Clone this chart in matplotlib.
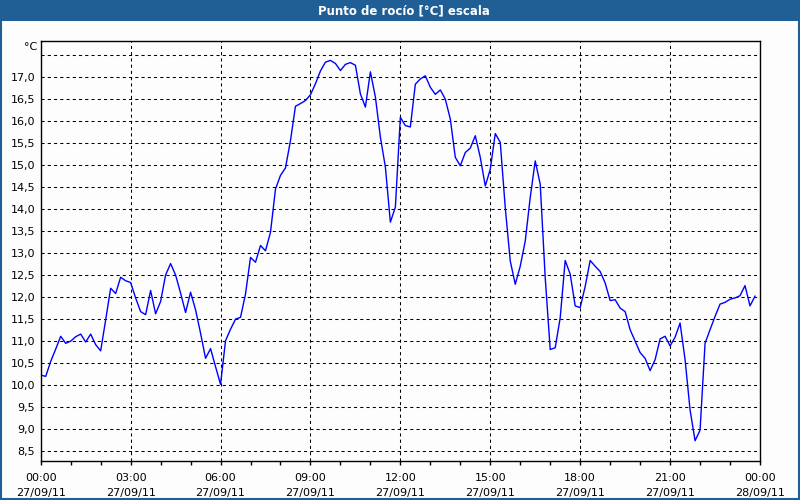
import numpy as np
import matplotlib.pyplot as plt
from matplotlib.patches import Rectangle

# dew point, one reading every 10 min from 27/09/11 00:00 to 23:50
dew_point = [
    10.23, 10.20, 10.54, 10.82, 11.11, 10.95,
    11.00, 11.10, 11.16, 10.98, 11.16, 10.92,
    10.78, 11.48, 12.20, 12.08, 12.45, 12.37,
    12.33, 11.98, 11.67, 11.60, 12.15, 11.62,
    11.90, 12.50, 12.76, 12.50, 12.09, 11.65,
    12.11, 11.71, 11.18, 10.61, 10.83, 10.42,
    10.02, 11.01, 11.27, 11.50, 11.54, 12.07,
    12.90, 12.79, 13.17, 13.05, 13.47, 14.45,
    14.76, 14.93, 15.55, 16.33, 16.39, 16.46,
    16.59, 16.84, 17.13, 17.33, 17.37, 17.30,
    17.14, 17.28, 17.32, 17.26, 16.61, 16.31,
    17.11, 16.54, 15.63, 14.95, 13.70, 14.04,
    16.08, 15.89, 15.86, 16.83, 16.95, 17.02,
    16.76, 16.60, 16.70, 16.49, 16.04, 15.17,
    14.98, 15.28, 15.38, 15.66, 15.17, 14.52,
    14.90, 15.71, 15.51, 14.03, 12.82, 12.29,
    12.70, 13.27, 14.26, 15.09, 14.56, 12.44,
    10.81, 10.85, 11.53, 12.83, 12.52, 11.80,
    11.76, 12.24, 12.83, 12.70, 12.58, 12.32,
    11.92, 11.94, 11.75, 11.67, 11.26, 11.00,
    10.74, 10.61, 10.33, 10.58, 11.05, 11.11,
    10.89, 11.09, 11.41, 10.58, 9.44, 8.74,
    8.98, 10.95, 11.26, 11.56, 11.84, 11.88,
    11.95, 11.98, 12.03, 12.26, 11.80, 12.02,
]
hours = np.arange(len(dew_point)) / 6.0

x_ticks = [0, 3, 6, 9, 12, 15, 18, 21, 24]
x_labels = ['00:00\n27/09/11', '03:00\n27/09/11', '06:00\n27/09/11',
            '09:00\n27/09/11', '12:00\n27/09/11', '15:00\n27/09/11',
            '18:00\n27/09/11', '21:00\n27/09/11', '00:00\n28/09/11']
y_ticks = np.arange(8.5, 17.51, 0.5)
y_labels = [f'{v:.1f}'.replace('.', ',') for v in y_ticks]
y_labels[-1] = ''

frame_blue = '#1f5f96'
bg = '#fcfdfc'

fig = plt.figure(figsize=(8, 5), dpi=100, facecolor=bg)
ax = fig.add_axes([0.0509, 0.0786, 0.8991, 0.84])
ax.set_facecolor(bg)

ax.plot(hours, dew_point, color='#0000ff', lw=1)

ax.set_xlim(0, 24)
ax.set_ylim(8.287, 17.817)
ax.set_xticks(x_ticks)
ax.set_xticklabels(x_labels, fontsize=8, linespacing=1.6)
ax.set_xticks(np.arange(0, 25, 1), minor=True)
ax.set_yticks(y_ticks)
ax.set_yticklabels(y_labels, fontsize=8)
ax.tick_params(axis='x', which='both', length=3, width=1, direction='out', pad=6)
ax.tick_params(axis='y', length=0, pad=4)
ax.grid(True, which='major', color='black', ls=(0, (3, 3)), lw=0.75)
for s in ax.spines.values():
    s.set_linewidth(1)
    s.set_color('black')

fig.text(0.047, 0.907, '°C', fontsize=8, ha='right', va='center')

# title bar and frame
fig.patches.append(Rectangle((0, 0.959), 1, 0.041, transform=fig.transFigure,
                             facecolor=frame_blue, edgecolor='none', zorder=0))
fig.patches.append(Rectangle((0.001, 0.002), 0.998, 0.996, transform=fig.transFigure,
                             facecolor='none', edgecolor=frame_blue, lw=1.5, zorder=5))
fig.text(0.505, 0.979, 'Punto de rocío [°C] escala', color='white',
         fontsize=8.5, fontweight='bold', ha='center', va='center')

fig.savefig('out.png', dpi=100, facecolor=bg)
